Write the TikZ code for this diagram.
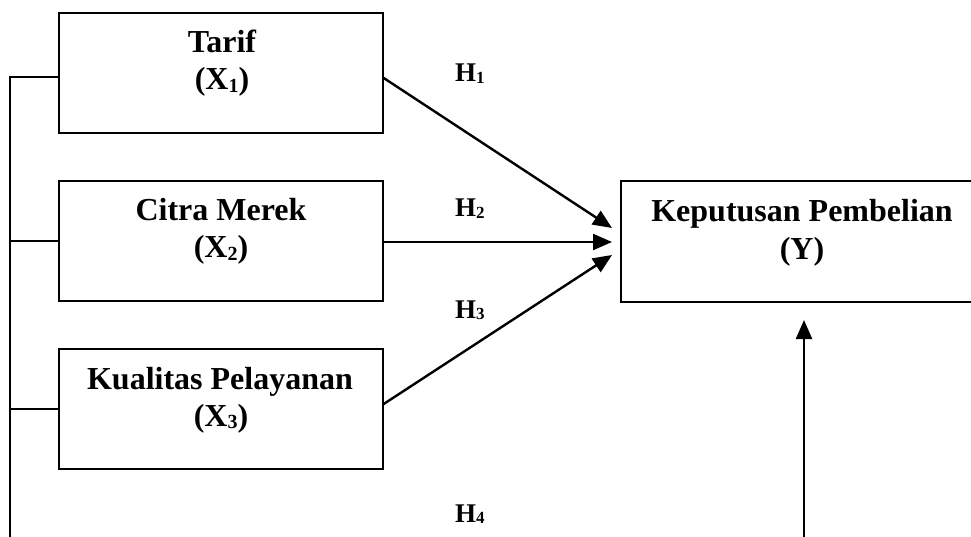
\documentclass[tikz,border=0pt]{standalone}
\usepackage{fontspec}
\setmainfont{Liberation Serif}
\usetikzlibrary{arrows.meta,calc}
\newcommand\subd[1]{\raisebox{-0.07em}{\fontsize{20}{20}\selectfont #1}}
\newcommand\subh[1]{\raisebox{-0.07em}{\fontsize{17}{17}\selectfont #1}}
\tikzset{
  varbox/.style={draw, line width=1.4pt, inner sep=0pt, minimum width=324pt, minimum height=120pt},
  ybox/.style={draw, line width=1.4pt, inner sep=0pt, minimum width=360pt, minimum height=121pt},
  boxtext/.style={anchor=base, inner sep=0pt, font=\bfseries\fontsize{32}{36}\selectfont},
  hlabel/.style={anchor=base west, inner sep=0pt, font=\bfseries\fontsize{27}{29}\selectfont},
  conn/.style={line width=2.2pt},
  arr/.style={line width=2.4pt, -{Triangle[length=19pt,width=16pt]}},
}
\begin{document}
\begin{tikzpicture}[x=1pt,y=-1pt]
\useasboundingbox (0,0) rectangle (971,537);
\clip (0,0) rectangle (971,537);
% boxes
\node[varbox] (x1) at (221,73) {};
\node[varbox] (x2) at (221,241) {};
\node[varbox] (x3) at (221,409) {};
\node[ybox] (y) at (801,241.5) {};
% texts
\node[boxtext] (t1a) at (222,53) {Tarif};
\node[boxtext] (t1b) at (222,90) {(X\subd{1})};
\node[boxtext] (t2a) at (221,221) {Citra Merek};
\node[boxtext] (t2b) at (221,258) {(X\subd{2})};
\node[boxtext] (t3a) at (220,389) {Kualitas Pelayanan};
\node[boxtext] (t3b) at (221,426) {(X\subd{3})};
\node[boxtext] (tya) at (802,222) {Keputusan Pembelian};
\node[boxtext] (tyb) at (802,259) {(Y)};
% hypothesis labels
\node[hlabel] (h1) at (455,82) {H\subh{1}};
\node[hlabel] (h2) at (455,217) {H\subh{2}};
\node[hlabel] (h3) at (455,318) {H\subh{3}};
\node[hlabel] (h4) at (455,522) {H\subh{4}};
% connector points
\coordinate (s1) at ($(x1.east)+(0,5)$);
\coordinate (s2) at ($(x2.east)+(0,1)$);
\coordinate (s3) at ($(x3.east)+(0,-5)$);
\coordinate (e1) at (612,228);
\coordinate (e2) at (612,242);
\coordinate (e3) at (612,255);
\coordinate (l1) at ($(x1.west)+(0,4)$);
\coordinate (l2) at ($(x2.west)$);
\coordinate (l3) at ($(x3.west)$);
\coordinate (lbot) at (10,545);
\coordinate (vbot) at (804,545);
\coordinate (vtop) at (804,320);
% arrows
\draw[arr] (s1) -- (e1);
\draw[arr] (s2) -- (e2);
\draw[arr] (s3) -- (e3);
\draw[arr] (vbot) -- (vtop);
% left bracket line
\draw[conn] (lbot) |- (l1);
\draw[conn] (lbot |- l2) -- (l2);
\draw[conn] (lbot |- l3) -- (l3);
\end{tikzpicture}
\end{document}
